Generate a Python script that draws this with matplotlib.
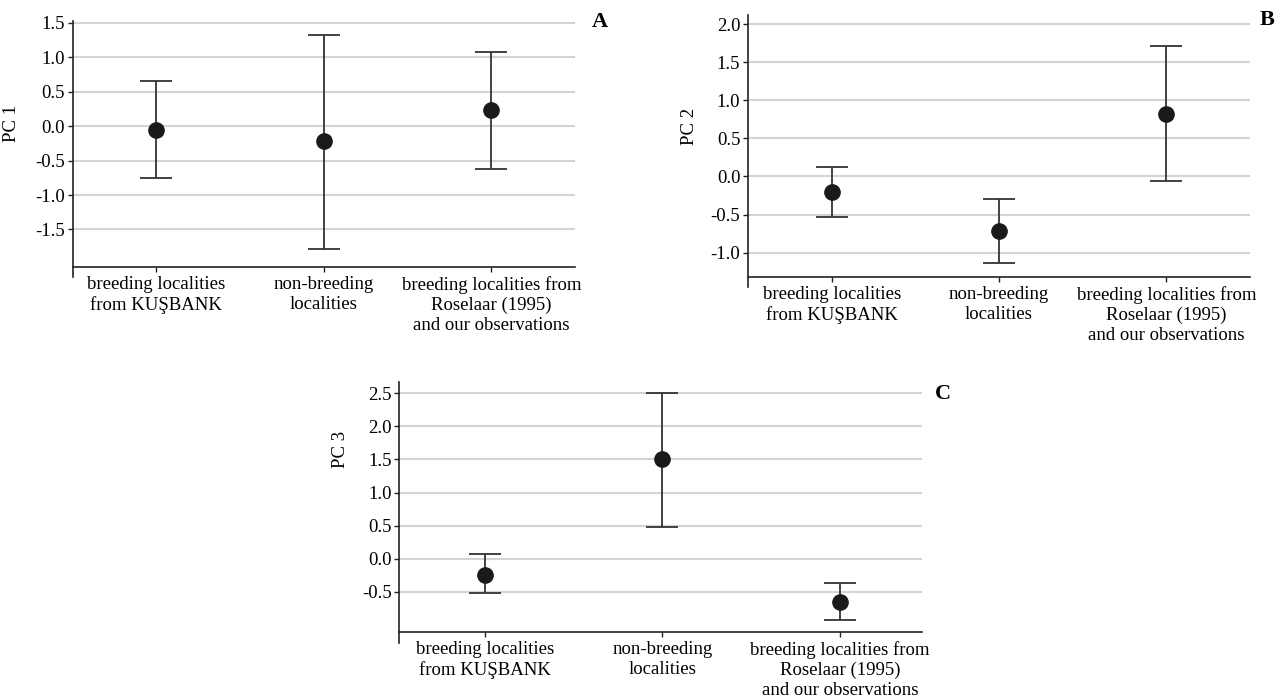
import matplotlib
matplotlib.use("Agg")
import matplotlib.pyplot as plt

plt.rcParams["font.family"] = ["Liberation Serif", "DejaVu Serif"]
plt.rcParams["axes.unicode_minus"] = False

categories = ["breeding localities\nfrom KUŞBANK",
              "non-breeding\nlocalities",
              "breeding localities from\nRoselaar (1995)\nand our observations"]

# means and interval ends
pc1_mean = [-0.06, -0.22, 0.24]
pc1_upper = [0.66, 1.32, 1.07]
pc1_lower = [-0.76, -1.78, -0.62]

pc2_mean = [-0.20, -0.72, 0.82]
pc2_upper = [0.12, -0.30, 1.71]
pc2_lower = [-0.53, -1.14, -0.06]

pc3_mean = [-0.24, 1.50, -0.66]
pc3_upper = [0.07, 2.50, -0.37]
pc3_lower = [-0.52, 0.48, -0.92]

pc1_ticks = [-1.5, -1.0, -0.5, 0.0, 0.5, 1.0, 1.5]
pc2_ticks = [-1.0, -0.5, 0.0, 0.5, 1.0, 1.5, 2.0]
pc3_ticks = [-0.5, 0.0, 0.5, 1.0, 1.5, 2.0, 2.5]

W, H = 1282, 700
fig = plt.figure(figsize=(W / 100, H / 100), dpi=100)


def panel(box, xlim, mean, upper, lower, ticks, ylim, x_axis_at, ylabel, label_xy, letter, letter_xy):
    left, top, right, bottom = box
    ax = fig.add_axes([left / W, 1 - bottom / H, (right - left) / W, (bottom - top) / H])
    x = list(range(len(categories)))
    err = [[m - lo for m, lo in zip(mean, lower)], [up - m for m, up in zip(mean, upper)]]
    ax.errorbar(x, mean, yerr=err, fmt="o", color="#1a1a1a", ecolor="#333333",
                elinewidth=1.3, capsize=11.8, capthick=1.3, markersize=11, zorder=3)
    ax.set_xlim(*xlim)
    ax.set_ylim(*ylim)
    ax.set_yticks(ticks)
    ax.set_yticklabels([f"{t:.1f}" for t in ticks])
    ax.set_xticks(x)
    ax.set_xticklabels(categories, linespacing=0.95)
    for t in ticks:
        ax.axhline(t, color="#d4d4d4", lw=1.5, zorder=1)
    for s in ["top", "right"]:
        ax.spines[s].set_visible(False)
    ax.spines["bottom"].set_position(("data", x_axis_at))
    for s in ["left", "bottom"]:
        ax.spines[s].set_color("#222222")
        ax.spines[s].set_linewidth(1.2)
    ax.tick_params(axis="y", length=3.5, width=1, pad=2, labelsize=13.5, color="#222222")
    ax.tick_params(axis="x", length=3.8, width=1, pad=3, labelsize=13.5, color="#222222")
    ax.set_ylabel(ylabel, fontsize=13.5)
    ax.yaxis.set_label_coords(*label_xy)
    fig.text(letter_xy[0] / W, 1 - letter_xy[1] / H, letter, fontsize=16,
             fontweight="bold", ha="center", va="center")
    return ax


panel((72.7, 20.7, 575, 277), (-0.5, 2.5), pc1_mean, pc1_upper, pc1_lower, pc1_ticks,
      (-2.19, 1.53), -2.04, "PC 1", (-0.105, 0.60), "A", (600, 22))
panel((748, 15, 1250, 287.3), (-0.5, 2.5), pc2_mean, pc2_upper, pc2_lower, pc2_ticks,
      (-1.455, 2.12), -1.315, "PC 2", (-0.10, 0.59), "B", (1267, 20))
panel((399.3, 381.7, 922, 642.7), (-0.48, 2.46), pc3_mean, pc3_upper, pc3_lower, pc3_ticks,
      (-1.27, 2.675), -1.105, "PC 3", (-0.096, 0.74), "C", (943, 394))

fig.savefig("out.png", dpi=100)
